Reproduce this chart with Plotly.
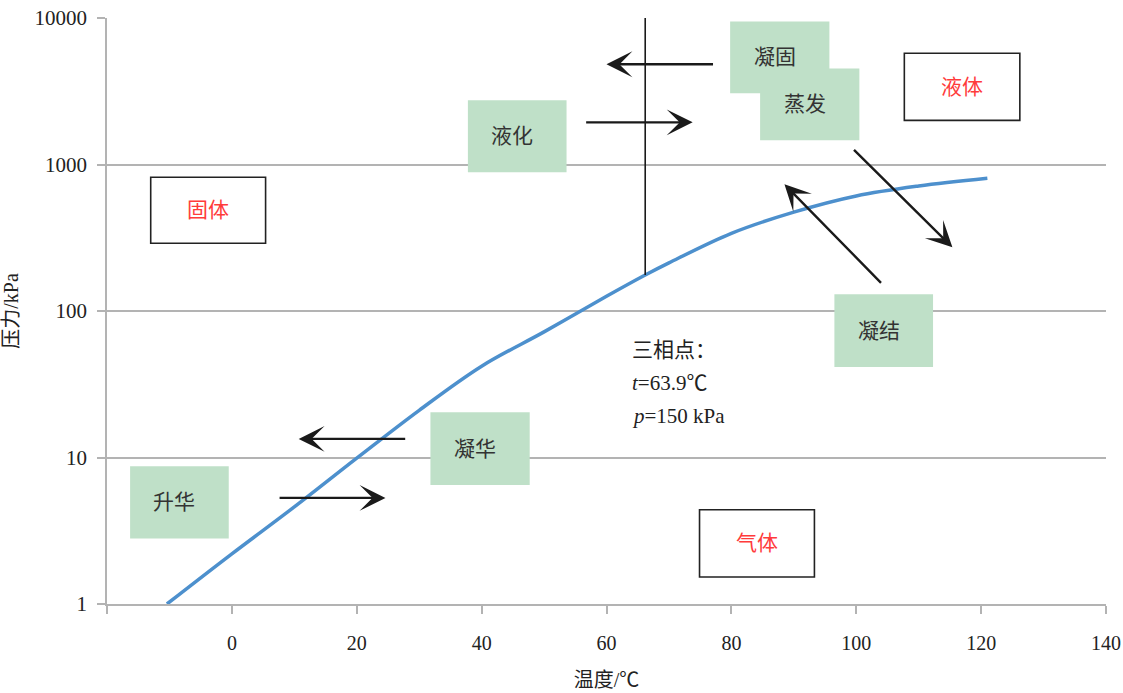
import math
import plotly.graph_objects as go

# Sublimation / vapour-pressure curve (temperature in ℃, pressure in kPa)
temperature = [-10.4, 0, 10, 20, 30, 40, 50, 60, 66.2, 70, 80, 90, 100, 110, 121]
pressure = [1.0, 2.2, 4.6, 9.9, 21, 42, 72, 126, 176, 213, 339, 473, 610, 713, 805]

# Triple point marker line
triple_t = 66.2
triple_p_top = 10000

x_ticks = [-20, 0, 20, 40, 60, 80, 100, 120, 140]
x_ticktext = ["", "0", "20", "40", "60", "80", "100", "120", "140"]
y_ticks = [1, 10, 100, 1000, 10000]
y_ticktext = ["1", "10", "100", "1000", "10000"]

# Process labels: (text, t0, t1, p0, p1)
process_boxes = [
    ("凝固", 79.8, 95.7, 3060, 9480),
    ("蒸发", 84.6, 100.5, 1462, 4530),
    ("液化", 37.8, 53.6, 885, 2740),
    ("凝结", 96.5, 112.3, 41.4, 130),
    ("凝华", 31.8, 47.7, 6.5, 20.4),
    ("升华", -16.3, -0.5, 2.8, 8.7),
]
# Phase labels: (text, t0, t1, p0, p1)
phase_boxes = [
    ("液体", 107.7, 126.2, 2000, 5740),
    ("固体", -13.0, 5.4, 290, 818),
    ("气体", 74.9, 93.3, 1.53, 4.4),
]
# Arrows: (tail t, tail p, head t, head p)
arrows = [
    (77.3, 4830, 60.0, 4830),
    (56.5, 1940, 73.8, 1940),
    (99.4, 1290, 115.4, 272),
    (104.2, 152, 88.5, 733),
    (28.0, 13.4, 10.7, 13.4),
    (7.4, 5.3, 24.6, 5.3),
]
triple_lines = ["三相点：", "<i>t</i>=63.9℃", "<i>p</i>=150 kPa"]
triple_label_t = 63.7
triple_label_p = [54, 32.2, 19.2]

FONT = "Liberation Serif, Noto Sans CJK SC, serif"
GRID = "#b3b3b3"
GREEN = "#bfe0c8"

fig = go.Figure()

fig.add_trace(go.Scatter(
    x=temperature, y=pressure, mode="lines",
    line=dict(color="#4d90cd", width=3.5, shape="spline", smoothing=1.0),
    showlegend=False, hoverinfo="skip",
))

fig.add_trace(go.Scatter(
    x=[triple_t, triple_t], y=[pressure[temperature.index(triple_t)], triple_p_top],
    mode="lines", line=dict(color="#1a1a1a", width=1.6),
    showlegend=False, hoverinfo="skip",
))

shapes = []
annotations = []

for text, t0, t1, p0, p1 in process_boxes:
    shapes.append(dict(type="rect", xref="x", yref="y", x0=t0, x1=t1, y0=p0, y1=p1,
                       fillcolor=GREEN, line=dict(width=0), layer="above"))
    annotations.append(dict(x=(t0 + t1) / 2, y=(math.log10(p0) + math.log10(p1)) / 2,
                            xref="x", yref="y", text=text, showarrow=False, xshift=-5,
                            font=dict(family=FONT, size=21, color="#333333")))

for text, t0, t1, p0, p1 in phase_boxes:
    shapes.append(dict(type="rect", xref="x", yref="y", x0=t0, x1=t1, y0=p0, y1=p1,
                       fillcolor="white", line=dict(width=1.6, color="#222222"), layer="above"))
    annotations.append(dict(x=(t0 + t1) / 2, y=(math.log10(p0) + math.log10(p1)) / 2,
                            xref="x", yref="y", text=text, showarrow=False,
                            font=dict(family=FONT, size=21, color="#ff3b3b")))

for ta, pa, th, ph in arrows:
    annotations.append(dict(x=th, y=math.log10(ph), ax=ta, ay=math.log10(pa),
                            xref="x", yref="y", axref="x", ayref="y", text="",
                            showarrow=True, arrowhead=3, arrowsize=1.8, arrowwidth=2.4,
                            arrowcolor="#1a1a1a", standoff=0, startstandoff=0))

for line_text, p in zip(triple_lines, triple_label_p):
    annotations.append(dict(x=triple_label_t, y=math.log10(p), xref="x", yref="y",
                            text=line_text, showarrow=False, xanchor="left",
                            font=dict(family=FONT, size=21, color="#222222")))

fig.update_layout(
    width=1123, height=693, autosize=False,
    margin=dict(l=107, r=17, t=18, b=89),
    paper_bgcolor="white", plot_bgcolor="white",
    font=dict(family=FONT, size=20, color="#222222"),
    shapes=shapes, annotations=annotations,
    xaxis=dict(
        range=[-20, 140], tickvals=x_ticks, ticktext=x_ticktext, automargin=False,
        showgrid=False, zeroline=False, showline=True, linecolor=GRID, linewidth=1.5,
        ticks="outside", ticklen=8, tickcolor=GRID, tickwidth=1.5, ticklabelstandoff=12,
        tickfont=dict(family=FONT, size=20, color="#222222"),
        title=dict(text="温度/℃", font=dict(family=FONT, size=20, color="#222222"), standoff=20),
    ),
    yaxis=dict(
        type="log", range=[0, 4], tickvals=y_ticks, ticktext=y_ticktext, automargin=False,
        showgrid=True, gridcolor=GRID, gridwidth=1.5, zeroline=False,
        showline=True, linecolor=GRID, linewidth=1.5,
        ticks="outside", ticklen=8, tickcolor=GRID, tickwidth=1.5, ticklabelstandoff=6,
        tickfont=dict(family=FONT, size=21, color="#222222"),
        title=dict(text="压力/kPa", font=dict(family=FONT, size=20, color="#222222"), standoff=12),
    ),
)

fig.write_html("out.html")
